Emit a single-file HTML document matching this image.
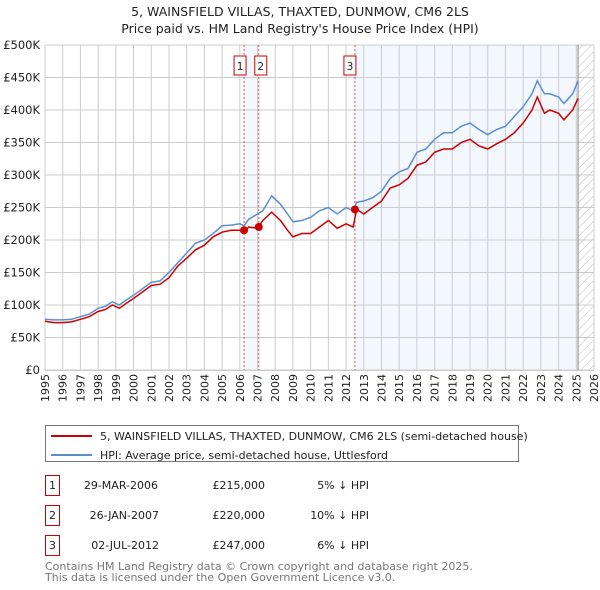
<!DOCTYPE html>
<html><head><meta charset="utf-8">
<style>
body{margin:0;background:#fff;width:600px;height:590px;overflow:hidden;font-family:"DejaVu Sans","Liberation Sans",sans-serif;}
svg{position:absolute;left:0;top:0}
</style></head>
<body>
<svg id="chart" width="600" height="590" viewBox="0 0 600 590">
<defs>
<pattern id="hatch" width="6" height="6" patternUnits="userSpaceOnUse" patternTransform="rotate(45)">
<line x1="0" y1="0" x2="0" y2="6" stroke="#bbb" stroke-width="1"/>
</pattern>
</defs>
<text x="300" y="16" text-anchor="middle" font-size="12.5" fill="#222">5, WAINSFIELD VILLAS, THAXTED, DUNMOW, CM6 2LS</text>
<text x="300" y="33" text-anchor="middle" font-size="12.5" fill="#222">Price paid vs. HM Land Registry's House Price Index (HPI)</text>
<g id="plot"></g>
<g>
<rect x="45.5" y="425.5" width="473" height="36" fill="#fff" stroke="#777"/>
<line x1="51" y1="436" x2="92" y2="436" stroke="#cc0000" stroke-width="2"/>
<text x="100" y="440" font-size="11" fill="#222">5, WAINSFIELD VILLAS, THAXTED, DUNMOW, CM6 2LS (semi-detached house)</text>
<line x1="51" y1="455" x2="92" y2="455" stroke="#5b8ed0" stroke-width="2"/>
<text x="100" y="459" font-size="11" fill="#222">HPI: Average price, semi-detached house, Uttlesford</text>
</g>
<g font-size="11" fill="#222">
<rect x="45.5" y="475.5" width="14" height="20" fill="#fff" stroke="#cc0000"/>
<text x="52.5" y="489" text-anchor="middle">1</text>
<text x="158" y="489" text-anchor="end">29-MAR-2006</text>
<text x="265" y="489" text-anchor="end">£215,000</text>
<text x="369" y="489" text-anchor="end">5% ↓ HPI</text>
<rect x="45.5" y="505.5" width="14" height="20" fill="#fff" stroke="#cc0000"/>
<text x="52.5" y="519" text-anchor="middle">2</text>
<text x="159" y="519" text-anchor="end">26-JAN-2007</text>
<text x="265" y="519" text-anchor="end">£220,000</text>
<text x="369" y="519" text-anchor="end">10% ↓ HPI</text>
<rect x="45.5" y="535.5" width="14" height="20" fill="#fff" stroke="#cc0000"/>
<text x="52.5" y="549" text-anchor="middle">3</text>
<text x="159" y="549" text-anchor="end">02-JUL-2012</text>
<text x="265" y="549" text-anchor="end">£247,000</text>
<text x="369" y="549" text-anchor="end">6% ↓ HPI</text>
</g>
<g font-size="11" fill="#777">
<text x="45" y="570">Contains HM Land Registry data © Crown copyright and database right 2025.</text>
<text x="45" y="581">This data is licensed under the Open Government Licence v3.0.</text>
</g>
</svg>
<script>
const dates=[1995,1995.5,1996,1996.5,1997,1997.5,1998,1998.4,1998.8,1999.2,1999.6,2000,2000.5,2001,2001.5,2002,2002.5,2003,2003.5,2004,2004.5,2005,2005.5,2006,2006.25,2006.5,2007,2007.3,2007.8,2008.3,2008.7,2009,2009.5,2010,2010.5,2011,2011.5,2012,2012.4,2012.6,2013,2013.5,2014,2014.5,2015,2015.5,2016,2016.5,2017,2017.5,2018,2018.5,2019,2019.5,2020,2020.5,2021,2021.5,2022,2022.5,2022.8,2023.2,2023.5,2024,2024.3,2024.8,2025.1];
const hpiValues=[78,77,77,78,82,86,95,98,105,100,108,115,125,135,137,150,165,180,195,200,210,222,223,225,222,232,240,245,268,255,240,228,230,235,245,250,240,250,245,258,260,265,275,295,305,310,335,340,355,365,365,375,380,370,362,370,375,390,405,425,445,425,425,420,410,425,445];
const priceValues=[75,73,73,74,78,82,90,93,100,95,103,110,120,130,132,142,160,172,185,192,205,212,215,215,212,220,218,230,243,230,215,205,210,210,220,230,218,225,220,247,240,250,260,280,285,295,315,320,335,340,340,350,355,345,340,348,355,365,380,400,420,395,400,395,385,400,418];
const yTicks=[0,50,100,150,200,250,300,350,400,450,500];
const yTickLabels=["£0","£50K","£100K","£150K","£200K","£250K","£300K","£350K","£400K","£450K","£500K"];
const xYears=[1995,1996,1997,1998,1999,2000,2001,2002,2003,2004,2005,2006,2007,2008,2009,2010,2011,2012,2013,2014,2015,2016,2017,2018,2019,2020,2021,2022,2023,2024,2025,2026];
const saleDates=[2006.24,2007.07,2012.5];
const saleValues=[215,220,247];
const saleLabels=["1","2","3"];

const X0=45,X1=594,Y0=370,Y1=45;
const xs=v=>X0+(v-1995)/(2026-1995)*(X1-X0);
const ys=v=>Y0-v/500*(Y0-Y1);
const NS="http://www.w3.org/2000/svg";
const g=document.getElementById('plot');
function mk(tag,attrs,parent){const e=document.createElementNS(NS,tag);for(const k in attrs)e.setAttribute(k,attrs[k]);(parent||g).appendChild(e);return e;}

// shaded regions
let r=mk('rect',{x:xs(saleDates[0]),y:Y1,width:xs(saleDates[1])-xs(saleDates[0]),height:Y0-Y1,fill:'#eef3fd',opacity:0.7});


r=mk('rect',{x:xs(saleDates[2]),y:Y1,width:xs(2025.1)-xs(saleDates[2]),height:Y0-Y1,fill:'#eef3fd',opacity:0.7});


r=mk('rect',{x:xs(2025.1),y:Y1,width:X1-xs(2025.1),height:Y0-Y1,fill:'url(#hatch)'});



// grid
xYears.forEach(yr=>{const l=mk('line',{x1:xs(yr),x2:xs(yr),y1:Y1,y2:Y0,stroke:'#ccc','stroke-width':1});


const t=mk('text',{x:0,y:0,'font-size':11,fill:'#222','text-anchor':'end',transform:`translate(${xs(yr)+4},${Y0+4}) rotate(-90)`});
t.textContent=yr;


});
yTicks.forEach((v,i)=>{const l=mk('line',{x1:X0,x2:X1,y1:ys(v),y2:ys(v),stroke:'#ccc','stroke-width':1});


const t=mk('text',{x:X0-5,y:ys(v)+4,'font-size':11.5,fill:'#222','text-anchor':'end'});
t.textContent=yTickLabels[i];


});
let nl=mk('line',{x1:xs(2025.1),x2:xs(2025.1),y1:Y1,y2:Y0,stroke:'#888','stroke-width':1});



// sale markers lines
saleDates.forEach((d,i)=>{const l=mk('line',{x1:xs(d),x2:xs(d),y1:Y1,y2:Y0,stroke:'#e05050','stroke-width':1,'stroke-dasharray':'2,2'});


const bx=i===0?xs(d)-10:(i===1?xs(d)-4:xs(d)-11);
const b=mk('rect',{x:bx,y:56,width:12,height:19,fill:'#fff',stroke:'#cc0000'});


const t=mk('text',{x:bx+6,y:70,'font-size':10.5,fill:'#222','text-anchor':'middle'});
t.textContent=saleLabels[i];


});

function path(vals){return vals.map((v,i)=>(i?'L':'M')+xs(dates[i]).toFixed(1)+','+ys(v).toFixed(1)).join('');}
const hp=mk('path',{d:path(hpiValues),fill:'none',stroke:'#5b8ed0','stroke-width':1.5});


const pp=mk('path',{d:path(priceValues),fill:'none',stroke:'#cc0000','stroke-width':1.5});


saleDates.forEach((d,i)=>{const c=mk('circle',{cx:xs(d),cy:ys(saleValues[i]),r:4,fill:'#cc0000'});


});
let ax=mk('line',{x1:X0,x2:X1,y1:Y0+0.5,y2:Y0+0.5,stroke:'#ccc'});


</script>
</body></html>
